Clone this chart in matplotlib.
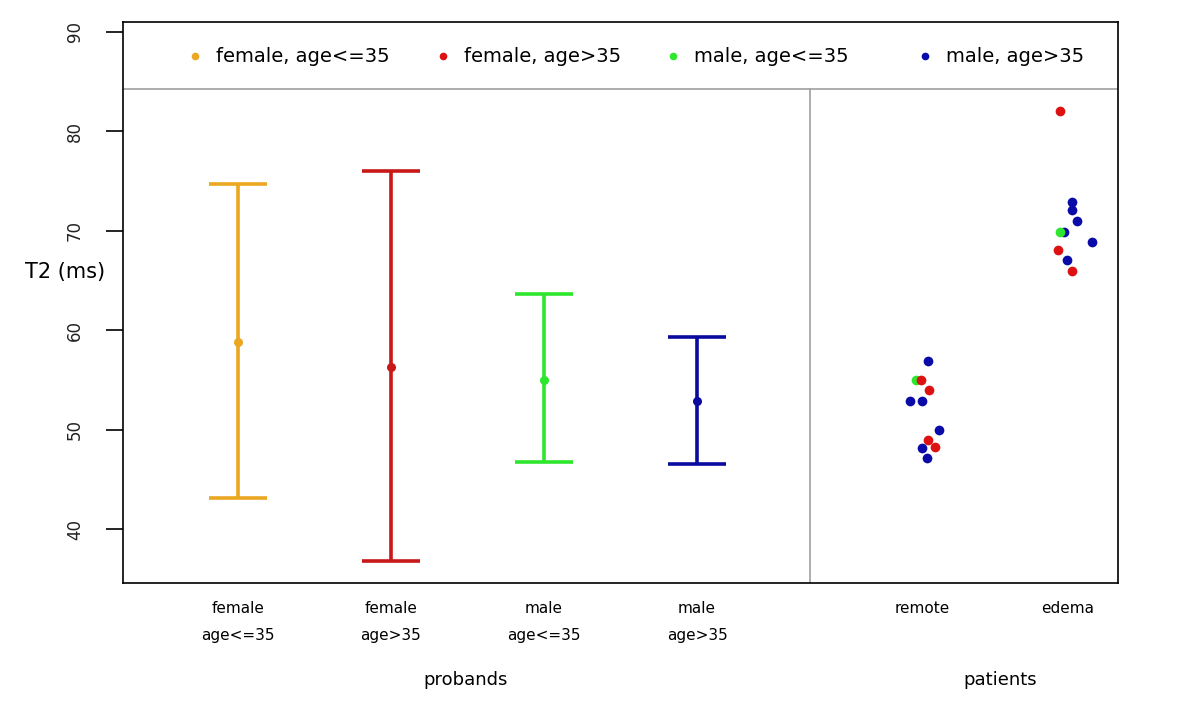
import matplotlib
matplotlib.use("Agg")
import matplotlib.pyplot as plt

# ---- data ----
groups = ["female\nage<=35", "female\nage>35", "male\nage<=35", "male\nage>35"]
group_means = [58.8, 56.3, 55.0, 52.9]
group_lower = [43.1, 36.8, 46.7, 46.5]
group_upper = [74.7, 76.0, 63.6, 59.3]
group_colors = ["#EBA622", "#C81818", "#2EE62E", "#0A0A9E"]
legend_labels = ["female, age<=35", "female, age>35", "male, age<=35", "male, age>35"]
point_colors = ["#EBA622", "#DD1111", "#2EE62E", "#0A0AA8"]

patient_cats = ["remote", "edema"]
# remote points: T2 values, group index, horizontal jitter
remote_vals = [56.9, 55.0, 55.0, 54.0, 52.9, 52.9, 50.0, 49.0, 48.2, 48.1, 47.1]
remote_grp = [3, 2, 1, 1, 3, 3, 3, 1, 1, 3, 3]
remote_jit = [0.04, -0.04, -0.01, 0.045, -0.08, 0.0, 0.11, 0.04, 0.085, 0.0, 0.03]
edema_vals = [82.0, 72.9, 72.1, 71.0, 69.9, 69.9, 68.9, 68.1, 67.1, 66.0]
edema_grp = [1, 3, 3, 3, 3, 2, 3, 1, 3, 1]
edema_jit = [-0.05, 0.03, 0.03, 0.06, -0.02, -0.05, 0.16, -0.06, -0.005, 0.03]

yticks = [40, 50, 60, 70, 80, 90]

# ---- figure ----
fig = plt.figure(figsize=(12, 7.05), dpi=100)
ax = fig.add_axes([123/1200, 1 - 583/705, (1118-123)/1200, (583-22)/705])

xpos = [1, 2, 3, 4]
ppos = [5.47, 6.42]
cap = 0.19
for x, m, lo, hi, c in zip(xpos, group_means, group_lower, group_upper, group_colors):
    ax.plot([x, x], [lo, hi], color=c, lw=2.6, solid_capstyle="butt")
    ax.plot([x - cap, x + cap], [lo, lo], color=c, lw=2.6, solid_capstyle="butt")
    ax.plot([x - cap, x + cap], [hi, hi], color=c, lw=2.6, solid_capstyle="butt")
    ax.plot([x], [m], "o", color=c, ms=6.5, mec="none")

for vals, grps, jit, px in [(remote_vals, remote_grp, remote_jit, ppos[0]),
                            (edema_vals, edema_grp, edema_jit, ppos[1])]:
    for v, g, j in zip(vals, grps, jit):
        ax.plot([px + j], [v], "o", color=point_colors[g], ms=7, mec="none")

ax.set_xlim(0.25, 6.75)
ax.set_ylim(34.57, 91.0)

# separators
ax.axhline(84.3, color="#A0A0A0", lw=1.2)
ax.plot([4.74, 4.74], [34.57, 84.3], color="#A0A0A0", lw=1.2)

ax.set_yticks(yticks)
ax.set_yticklabels([str(t) for t in yticks], rotation=90, va="center", fontsize=12, color="#222222")
ax.tick_params(axis="y", length=12, width=1.2, pad=16)
ax.set_xticks(xpos + ppos)
ax.set_xticklabels(groups + patient_cats, fontsize=11, linespacing=2.0)
ax.tick_params(axis="x", length=0, pad=13)
for s in ax.spines.values():
    s.set_linewidth(1.2)

# legend (placed item by item along the top band)
leg_marker_x = [195, 443, 673, 925]
leg_y = 1 - 56/705
for mx, lab, c in zip(leg_marker_x, legend_labels, point_colors):
    fig.lines.append(plt.Line2D([mx/1200], [leg_y], marker="o", ls="none", color=c,
                                ms=5.5, mec="none", transform=fig.transFigure))
    fig.text((mx + 21)/1200, leg_y, lab, ha="left", va="center", fontsize=14)

fig.text(65/1200, 1 - 272/705, "T2 (ms)", ha="center", va="center", fontsize=15)
fig.text(466/1200, 1 - 680/705, "probands", ha="center", va="center", fontsize=13)
fig.text(1000/1200, 1 - 680/705, "patients", ha="center", va="center", fontsize=13)

fig.savefig("out.png", dpi=100)
